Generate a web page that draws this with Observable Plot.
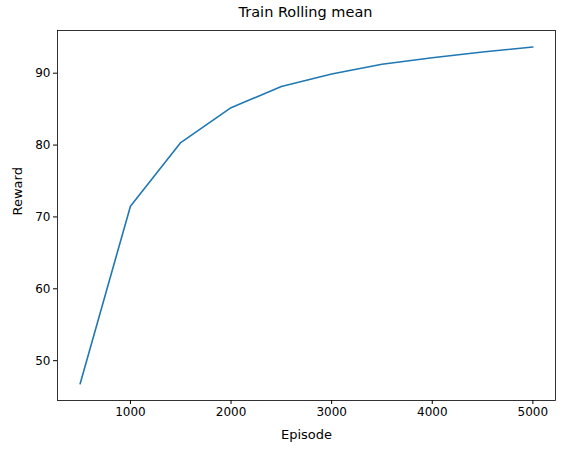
<!DOCTYPE html>
<html>
<head>
<meta charset="utf-8">
<script src="https://cdn.jsdelivr.net/npm/d3@7"></script>
<script src="https://cdn.jsdelivr.net/npm/@observablehq/plot@0.6"></script>
<style>
  body { margin: 0; background: #fff; font-family: "DejaVu Sans", sans-serif; }
  #title { width: 563px; height: 24px; line-height: 24px; text-align: center; font-size: 14.5px; padding-left: 48px; box-sizing: border-box; }
</style>
</head>
<body>
<div id="title">Train Rolling mean</div>
<div id="chart"></div>
<script>
const episodes = [500, 1000, 1500, 2000, 2500, 3000, 3500, 4000, 4500, 5000];
const rewards = [46.8, 71.5, 80.35, 85.2, 88.15, 89.9, 91.25, 92.15, 92.95, 93.65];
const xTicks = [1000, 2000, 3000, 4000, 5000];
const yTicks = [50, 60, 70, 80, 90];

const data = episodes.map((e, i) => ({episode: e, reward: rewards[i]}));

const plot = Plot.plot({
  width: 563,
  height: 429,
  marginTop: 6,
  marginBottom: 53,
  marginLeft: 57,
  marginRight: 8,
  style: {fontFamily: "DejaVu Sans, sans-serif", fontSize: "12px", color: "#000"},
  x: {domain: [275, 5225], ticks: xTicks, tickFormat: d3.format("d"), label: null},
  y: {domain: [44.46, 95.94], ticks: yTicks, label: null},
  marks: [
    Plot.frame({stroke: "#000", strokeWidth: 0.8}),
    Plot.axisX({ticks: xTicks, tickFormat: d3.format("d"), tickSize: 4, tickPadding: 3, label: null}),
    Plot.axisY({ticks: yTicks, tickSize: 4, tickPadding: 3, label: null}),
    Plot.text(["Episode"], {frameAnchor: "bottom", dy: 38, fontSize: 13}),
    Plot.text(["Reward"], {frameAnchor: "left", dx: -40, rotate: -90, fontSize: 13}),
    Plot.line(data, {x: "episode", y: "reward", stroke: "#1f77b4", strokeWidth: 1.6})
  ]
});
document.getElementById("chart").append(plot);
</script>
</body>
</html>
